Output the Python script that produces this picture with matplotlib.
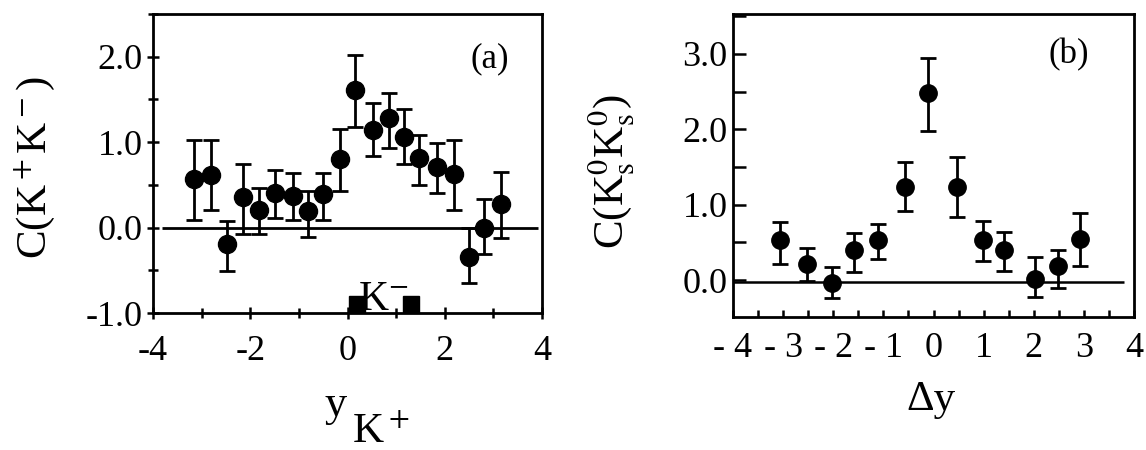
import numpy as np
import matplotlib
matplotlib.use('Agg')
import matplotlib.pyplot as plt
from matplotlib.ticker import MultipleLocator, FormatStrFormatter, FixedLocator, FixedFormatter

plt.rcParams['font.family'] = ['Liberation Serif', 'DejaVu Serif']
plt.rcParams['mathtext.fontset'] = 'stix'
plt.rcParams['axes.unicode_minus'] = False

# panel (a): C(K+K-) vs y_K+
ya_x = [-3.15, -2.81, -2.47, -2.15, -1.83, -1.49, -1.13, -0.82, -0.50, -0.15,
        0.15, 0.53, 0.86, 1.16, 1.48, 1.85, 2.19, 2.49, 2.80, 3.15]
ya_c = [0.57, 0.62, -0.19, 0.36, 0.21, 0.40, 0.37, 0.19, 0.39, 0.80,
        1.61, 1.14, 1.28, 1.06, 0.81, 0.71, 0.63, -0.35, 0.0, 0.28]
ya_hi = [1.02, 1.02, 0.08, 0.74, 0.46, 0.67, 0.64, 0.43, 0.64, 1.15,
         2.02, 1.46, 1.58, 1.39, 1.08, 0.99, 1.02, -0.01, 0.34, 0.65]
ya_lo = [0.09, 0.21, -0.51, -0.08, -0.08, 0.11, 0.09, -0.11, 0.09, 0.43,
         1.18, 0.84, 0.93, 0.75, 0.50, 0.41, 0.21, -0.65, -0.31, -0.12]
kminus_x = [0.20, 1.30]
kminus_y = [-0.90, -0.90]

# panel (b): C(Ks0 Ks0) vs delta y
yb_x = [-3.06, -2.53, -2.03, -1.59, -1.11, -0.56, -0.11, 0.47, 0.99, 1.40, 2.02, 2.49, 2.92]
yb_c = [0.53, 0.21, -0.04, 0.40, 0.53, 1.23, 2.48, 1.23, 0.53, 0.40, 0.02, 0.19, 0.55]
yb_hi = [0.77, 0.42, 0.18, 0.63, 0.74, 1.56, 2.94, 1.63, 0.78, 0.64, 0.30, 0.40, 0.89]
yb_lo = [0.21, -0.01, -0.24, 0.11, 0.28, 0.92, 1.98, 0.84, 0.25, 0.12, -0.23, -0.10, 0.19]
xb_ticks = [-4, -3, -2, -1, 0, 1, 2, 3, 4]
xb_labels = ['- 4', '- 3', '- 2', '- 1', '0', '1', '2', '3', '4']

W, H = 1146, 450
fig = plt.figure(figsize=(W / 100, H / 100), dpi=100)

def box(l, t, r, b):
    return [l / W, 1 - b / H, (r - l) / W, (b - t) / H]

axa = fig.add_axes(box(153, 14, 542, 313))
axb = fig.add_axes(box(733, 14, 1134, 317))

ea = [np.array(ya_c) - np.array(ya_lo), np.array(ya_hi) - np.array(ya_c)]
axa.errorbar(ya_x, ya_c, yerr=ea, fmt='o', color='black', ms=13, elinewidth=2,
             capsize=6, capthick=2)
axa.hlines(0, -3.82, 3.92, color='black', lw=2)
axa.plot(kminus_x, kminus_y, 's', color='black', ms=12)
axa.text(0.74, -0.97, 'K$^{-}$', fontsize=30, ha='center', va='baseline')
axa.set_xlim(-4, 4)
axa.set_ylim(-1, 2.5)
axa.xaxis.set_major_locator(MultipleLocator(2))
axa.xaxis.set_minor_locator(MultipleLocator(1))
axa.yaxis.set_major_locator(MultipleLocator(1))
axa.yaxis.set_minor_locator(MultipleLocator(0.5))
axa.yaxis.set_major_formatter(FormatStrFormatter('%.1f'))
axa.tick_params(which='both', direction='inout', labelsize=26, width=1.8)
axa.tick_params(which='major', length=9)
axa.tick_params(which='minor', length=7)
axa.tick_params(axis='x', pad=11)
axa.tick_params(axis='y', pad=3)
axa.text(0.866, 0.85, '(a)', transform=axa.transAxes, fontsize=25, ha='center', va='center')

eb = [np.array(yb_c) - np.array(yb_lo), np.array(yb_hi) - np.array(yb_c)]
axb.errorbar(yb_x, yb_c, yerr=eb, fmt='o', color='black', ms=12.5, elinewidth=2,
             capsize=6, capthick=2)
axb.hlines(-0.02, -4, 3.81, color='black', lw=1.8)
axb.set_xlim(-4, 4)
axb.set_ylim(-0.49, 3.53)
axb.xaxis.set_major_locator(FixedLocator(xb_ticks))
axb.xaxis.set_major_formatter(FixedFormatter(xb_labels))
axb.xaxis.set_minor_locator(MultipleLocator(0.5))
axb.yaxis.set_major_locator(MultipleLocator(1))
axb.yaxis.set_minor_locator(MultipleLocator(0.5))
axb.yaxis.set_major_formatter(FormatStrFormatter('%.1f'))
axb.tick_params(which='both', direction='in', labelsize=26, width=1.8)
axb.tick_params(axis='x', which='both', length=5, pad=11)
axb.tick_params(axis='y', which='both', length=9, pad=4)
axb.text(0.838, 0.865, '(b)', transform=axb.transAxes, fontsize=25, ha='center', va='center')

for ax in (axa, axb):
    for s in ax.spines.values():
        s.set_linewidth(2)

fig.text(35 / W, 1 - 167 / H, 'C(K$^+$K$^-$)', rotation=90, fontsize=31,
         ha='center', va='center')
fig.text(611 / W, 1 - 172 / H, r'C(K$_\mathrm{s}^0$K$_\mathrm{s}^0$)', rotation=90, fontsize=31,
         ha='center', va='center')
fig.text(336 / W, 1 - 416 / H, 'y', fontsize=32, ha='center', va='baseline')
fig.text(352 / W, 1 - 443 / H, 'K$^+$', fontsize=31, ha='left', va='baseline')
fig.text(931 / W, 1 - 410 / H, '\u0394y', fontsize=31, ha='center', va='baseline')

fig.savefig('out.png', dpi=100)
